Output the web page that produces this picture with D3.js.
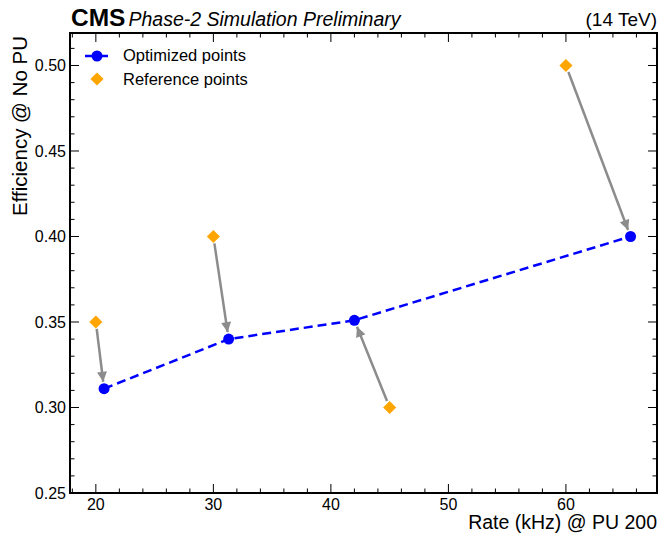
<!DOCTYPE html>
<html>
<head>
<meta charset="utf-8">
<script src="https://cdn.jsdelivr.net/npm/d3@7"></script>
<style>
  body { margin: 0; background: #fff; }
  text { font-family: "Liberation Sans", Arial, sans-serif; }
</style>
</head>
<body>
<div id="chart"></div>
<script>
// --- Data ---
const optRate = [20.7, 31.3, 42.0, 65.5];
const optEff  = [0.311, 0.340, 0.351, 0.400];
const refRate = [20, 30, 45, 60];
const refEff  = [0.35, 0.40, 0.30, 0.50];
const xTicks = [20, 30, 40, 50, 60];
const yTicks = [0.25, 0.30, 0.35, 0.40, 0.45, 0.50];
const legendLabels = ["Optimized points", "Reference points"];

const W = 659, H = 535;
const margin = {top: 33, right: 2, bottom: 42, left: 70};

const svg = d3.select("#chart").append("svg")
    .attr("width", W).attr("height", H);

const x = d3.scaleLinear().domain([17.8, 67.75]).range([margin.left, W - margin.right]);
const y = d3.scaleLinear().domain([0.25, 0.519]).range([H - margin.bottom, margin.top]);

const blue = "#0000ff", orange = "#ffa500", grey = "#8c8c8c";

// arrow head marker
svg.append("defs").append("marker")
    .attr("id", "head")
    .attr("viewBox", "0 0 10 10")
    .attr("refX", 10).attr("refY", 5)
    .attr("markerUnits", "userSpaceOnUse")
    .attr("markerWidth", 11).attr("markerHeight", 10)
    .attr("orient", "auto")
  .append("path")
    .attr("d", "M0,0 L10,5 L0,10 Z")
    .attr("fill", grey);

// --- Axes with inward ticks on all sides ---
const xMinor = d3.range(18, 68, 2).filter(v => !xTicks.includes(v));
const yMinor = d3.range(26, 52, 1).map(v => v / 100).filter(v => !yTicks.some(t => Math.abs(t - v) < 1e-9));

const pBottom = H - margin.bottom, pTop = margin.top, pLeft = margin.left, pRight = W - margin.right;

const ticks = svg.append("g").attr("stroke", "#000").attr("stroke-width", 1);
xTicks.forEach(v => {
  ticks.append("line").attr("x1", x(v)).attr("x2", x(v)).attr("y1", pBottom).attr("y2", pBottom - 9);
  ticks.append("line").attr("x1", x(v)).attr("x2", x(v)).attr("y1", pTop).attr("y2", pTop + 9);
});
xMinor.forEach(v => {
  ticks.append("line").attr("x1", x(v)).attr("x2", x(v)).attr("y1", pBottom).attr("y2", pBottom - 4.5);
  ticks.append("line").attr("x1", x(v)).attr("x2", x(v)).attr("y1", pTop).attr("y2", pTop + 4.5);
});
yTicks.forEach(v => {
  ticks.append("line").attr("y1", y(v)).attr("y2", y(v)).attr("x1", pLeft).attr("x2", pLeft + 9);
  ticks.append("line").attr("y1", y(v)).attr("y2", y(v)).attr("x1", pRight).attr("x2", pRight - 9);
});
yMinor.forEach(v => {
  ticks.append("line").attr("y1", y(v)).attr("y2", y(v)).attr("x1", pLeft).attr("x2", pLeft + 4.5);
  ticks.append("line").attr("y1", y(v)).attr("y2", y(v)).attr("x1", pRight).attr("x2", pRight - 4.5);
});

svg.append("rect")
    .attr("x", pLeft).attr("y", pTop)
    .attr("width", pRight - pLeft).attr("height", pBottom - pTop)
    .attr("fill", "none").attr("stroke", "#000").attr("stroke-width", 2);

svg.append("g").selectAll("text").data(xTicks).enter().append("text")
    .attr("x", d => x(d)).attr("y", pBottom + 17)
    .attr("text-anchor", "middle").attr("font-size", 16)
    .text(d => d);

svg.append("g").selectAll("text").data(yTicks).enter().append("text")
    .attr("x", pLeft - 4).attr("y", d => y(d) + 6)
    .attr("text-anchor", "end").attr("font-size", 16)
    .text(d => d3.format(".2f")(d));

svg.append("text")
    .attr("x", pRight).attr("y", 529)
    .attr("text-anchor", "end").attr("font-size", 19.5)
    .text("Rate (kHz) @ PU 200");

svg.append("text")
    .attr("transform", `translate(27,36) rotate(-90)`)
    .attr("text-anchor", "end").attr("font-size", 20.5)
    .text("Efficiency @ No PU");

// --- Header ---
const head = svg.append("text").attr("x", pLeft + 1).attr("y", 26);
head.append("tspan").attr("font-weight", "bold").attr("font-size", 24.5).text("CMS");
head.append("tspan").attr("font-style", "italic").attr("font-size", 19.5).attr("dx", 3).text("Phase-2 Simulation Preliminary");
svg.append("text")
    .attr("x", pRight).attr("y", 26)
    .attr("text-anchor", "end").attr("font-size", 19)
    .text("(14 TeV)");

// --- Arrows from reference to optimized ---
const shrink = 7;
refRate.forEach((r, i) => {
  const x1 = x(r), y1 = y(refEff[i]), x2 = x(optRate[i]), y2 = y(optEff[i]);
  const len = Math.hypot(x2 - x1, y2 - y1);
  const ux = (x2 - x1) / len, uy = (y2 - y1) / len;
  svg.append("line")
      .attr("x1", x1 + ux * shrink).attr("y1", y1 + uy * shrink)
      .attr("x2", x2 - ux * shrink).attr("y2", y2 - uy * shrink)
      .attr("stroke", grey).attr("stroke-width", 2.5)
      .attr("marker-end", "url(#head)");
});

// --- Optimized line + points ---
const line = d3.line().x(d => x(d[0])).y(d => y(d[1]));
svg.append("path")
    .datum(optRate.map((r, i) => [r, optEff[i]]))
    .attr("d", line)
    .attr("fill", "none").attr("stroke", blue)
    .attr("stroke-width", 2.5).attr("stroke-dasharray", "9,5");

svg.append("g").selectAll("circle").data(optRate).enter().append("circle")
    .attr("cx", d => x(d)).attr("cy", (d, i) => y(optEff[i]))
    .attr("r", 5.5).attr("fill", blue);

// reference diamonds
const diamond = d3.symbol().type(d3.symbolDiamond2).size(110);
svg.append("g").selectAll("path").data(refRate).enter().append("path")
    .attr("d", diamond)
    .attr("transform", (d, i) => `translate(${x(d)},${y(refEff[i])})`)
    .attr("fill", orange);

// --- Legend ---
const lg = svg.append("g");
lg.append("line").attr("x1", 85).attr("x2", 109).attr("y1", 56).attr("y2", 56)
    .attr("stroke", blue).attr("stroke-width", 2.5).attr("stroke-dasharray", "9,5");
lg.append("circle").attr("cx", 97).attr("cy", 56).attr("r", 5.5).attr("fill", blue);
lg.append("path").attr("d", diamond).attr("transform", "translate(97,79)").attr("fill", orange);
legendLabels.forEach((t, i) => {
  lg.append("text").attr("x", 123).attr("y", 61 + i * 24).attr("font-size", 16.5).text(t);
});
</script>
</body>
</html>
